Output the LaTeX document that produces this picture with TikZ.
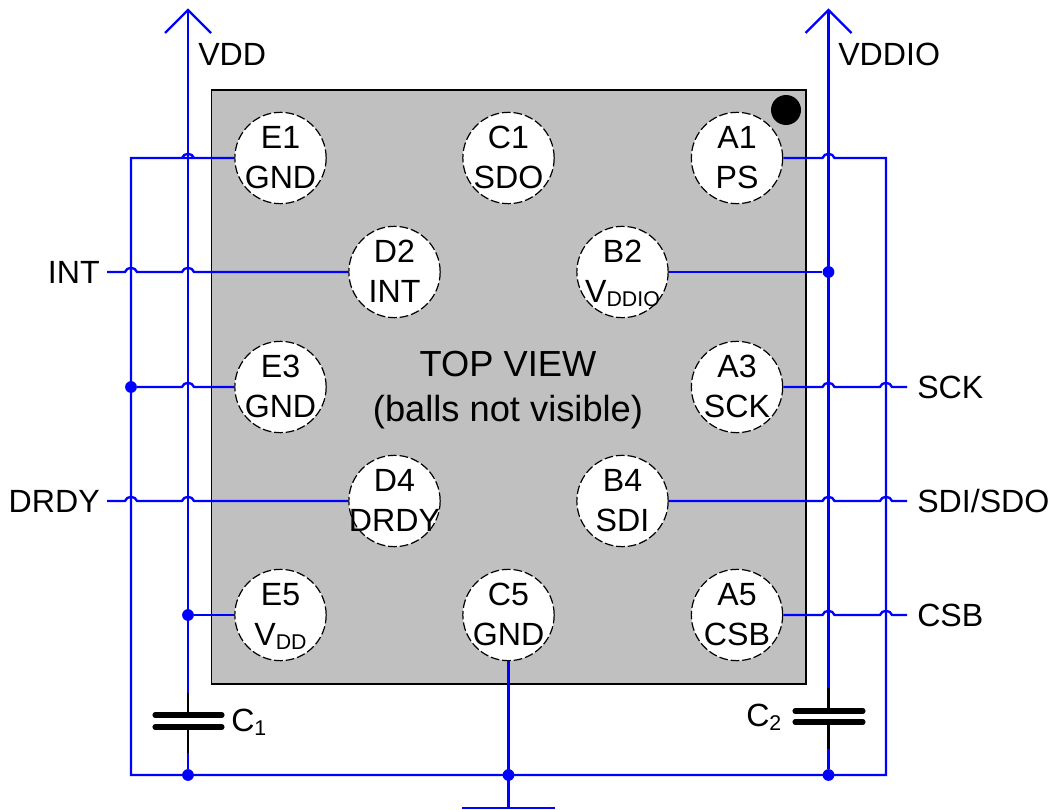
\documentclass[tikz,border=0pt]{standalone}
\usepackage{fontspec}
\setmainfont{Liberation Sans}
\newcommand{\subtxt}[1]{\raisebox{-3.6pt}{\fontsize{16}{16}\selectfont #1}}
\newcommand{\hopat}[2]{-- (#1-6,#2) .. controls (#1-4.5,#2-5.5) and (#1+4.5,#2-5.5) .. (#1+6,#2)}
\tikzset{
  wire/.style={draw=wireblue,line width=1.75pt,line join=miter},
  capwire/.style={draw=black,line width=1.75pt},
  plate/.style={draw=black,line width=3.8pt,line cap=round},
  ball/.style={circle,draw=black,fill=white,line width=0.9pt,dash pattern=on 6.5pt off 2.2pt,minimum size=68.5pt,inner sep=0pt},
  lbl/.style={inner sep=0pt,font=\fontsize{24.1}{28}\selectfont},
  biglbl/.style={inner sep=0pt,font=\fontsize{27.2}{32}\selectfont},
  junction/.style={circle,fill=wireblue,inner sep=0pt,minimum size=8.8pt},
}
\definecolor{wireblue}{RGB}{0,0,255}
\definecolor{chipgrey}{RGB}{192,192,192}
\newcommand{\ballnode}[5]{%
  \node[ball] (#1) at (#2,#3) {};
  \node[lbl,anchor=base] (#1a) at (#2,#3-10) {#4};
  \node[lbl,anchor=base] (#1b) at (#2,#3+30) {#5};
}
\begin{document}
\begin{tikzpicture}[x=0.75pt,y=-0.75pt]
\useasboundingbox (0,0) rectangle (1054,810);
\node[draw=black,line width=1pt,fill=chipgrey,inner sep=0pt,minimum width=446pt,minimum height=445.5pt] (chip) at (508.5,387) {};
\node[circle,fill=black,inner sep=0pt,minimum size=22.5pt] (pin1) at (786,110) {};
% junctions and free ends
\coordinate (vddtop) at (188,10);
\coordinate (viotop) at (828.5,10);
\coordinate (c1top) at (188,693);
\coordinate (c1plA) at (188,715);
\coordinate (c1plB) at (188,727);
\coordinate (c1bot) at (188,753);
\coordinate (c2top) at (828.5,688);
\coordinate (c2plA) at (828.5,711);
\coordinate (c2plB) at (828.5,722);
\coordinate (c2bot) at (828.5,749);
\coordinate (gndbar) at (508.5,808);
\node[junction] (jE5) at (188,615) {};
\node[junction] (jB2) at (828.5,272) {};
\node[junction] (jE3) at (131,387) {};
\node[junction] (jC1) at (188,775) {};
\node[junction] (jGND) at (508.5,775) {};
\node[junction] (jC2) at (828.5,775) {};
% external labels
\node[lbl,anchor=base west] (tVDD) at (198,65) {VDD};
\node[lbl,anchor=base west] (tVIO) at (838,65) {VDDIO};
\node[lbl,anchor=base east] (tINT) at (100,283) {INT};
\node[lbl,anchor=base east] (tDRDY) at (100,512) {DRDY};
\node[lbl,anchor=base west] (tSCK) at (917,398) {SCK};
\node[lbl,anchor=base west] (tSDI) at (917,512) {SDI/SDO};
\node[lbl,anchor=base west] (tCSB) at (917,626) {CSB};
\coordinate (eINT) at (107,272);
\coordinate (eDRDY) at (107,501);
\coordinate (eSCK) at (907,387);
\coordinate (eSDI) at (907,501);
\coordinate (eCSB) at (907,615);
\node[biglbl,anchor=base] (top1) at (508,376) {TOP VIEW};
\node[biglbl,anchor=base] (top2) at (508,421) {(balls not visible)};
\node[lbl,anchor=base west] (tC1) at (231,731) {C\subtxt{1}};
\node[lbl,anchor=base west] (tC2) at (746,726) {C\subtxt{2}};
% balls
\ballnode{E1}{280.5}{158}{E1}{GND}
\ballnode{C1}{508.5}{158}{C1}{SDO}
\ballnode{A1}{737}{158}{A1}{PS}
\ballnode{D2}{394.5}{272}{D2}{INT}
\ballnode{B2}{622.5}{272}{B2}{V\subtxt{DDIO}}
\ballnode{E3}{280.5}{387}{E3}{GND}
\ballnode{A3}{737}{387}{A3}{SCK}
\ballnode{D4}{394.5}{501}{D4}{DRDY}
\ballnode{B4}{622.5}{501}{B4}{SDI}
\ballnode{E5}{280.5}{615}{E5}{V\subtxt{DD}}
\ballnode{C5}{508.5}{615}{C5}{GND}
\ballnode{A5}{737}{615}{A5}{CSB}
% supply rails
\draw[wire] (vddtop) -- (c1top);
\draw[wire] (viotop) -- (c2top);
\draw[wire] (165,33) -- (vddtop) -- (211,33);
\draw[wire] (805.5,33) -- (viotop) -- (851.5,33);
% ground loop
\draw[wire] (E1.west) \hopat{188}{158} -- (131,158) -- (131,775) -- (886,775) -- (886,158) -- (834.5,158) .. controls (833,152.5) and (824,152.5) .. (822.5,158) -- (A1.east);
\draw[wire] (jE3) \hopat{188}{387} -- (E3.west);
\draw[wire] (jE5) -- (E5.west);
\draw[wire] (B2.east) -- (jB2);
\draw[wire] (C5.south) -- (gndbar);
\draw[wire] (462,808) -- (gndbar) -- (555,808);
% signal wires
\draw[wire] (eINT) \hopat{131}{272} \hopat{188}{272} -- (D2.west);
\draw[wire] (eDRDY) \hopat{131}{501} \hopat{188}{501} -- (D4.west);
\draw[wire] (A3.east) \hopat{828.5}{387} \hopat{886}{387} -- (eSCK);
\draw[wire] (B4.east) \hopat{828.5}{501} \hopat{886}{501} -- (eSDI);
\draw[wire] (A5.east) \hopat{828.5}{615} \hopat{886}{615} -- (eCSB);
% capacitors
\draw[wire] (c1bot) -- (jC1);
\draw[wire] (c2bot) -- (jC2);
\draw[capwire] (c1top) -- (c1plA);
\draw[capwire] (c1plB) -- (c1bot);
\draw[capwire] (c2top) -- (c2plA);
\draw[capwire] (c2plB) -- (c2bot);
\draw[plate] (155,715) -- (c1plA) -- (222,715);
\draw[plate] (155,727) -- (c1plB) -- (222,727);
\draw[plate] (795,711) -- (c2plA) -- (863,711);
\draw[plate] (795,722) -- (c2plB) -- (863,722);
\end{tikzpicture}
\end{document}
